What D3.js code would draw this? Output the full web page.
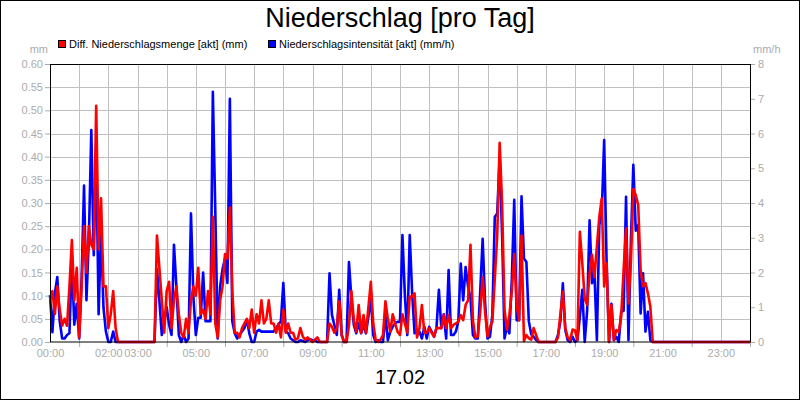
<!DOCTYPE html>
<html>
<head>
<meta charset="utf-8">
<script src="https://cdn.jsdelivr.net/npm/d3@7"></script>
<style>
  body { margin: 0; background: #fff; }
  svg { display: block; font-family: "Liberation Sans", Arial, sans-serif; }
</style>
</head>
<body>
<svg id="chart"></svg>
<script>
// 5-minute steps from 00:00 to 24:00 (289 values each)
var stepMinutes = 5

// Diff. Niederschlagsmenge [akt] (mm)
var mengeValues = [
  0.09, 0.11, 0.06, 0.12, 0.07, 0.035, 0.05, 0.035, 0.12, 0.22, 0.09, 0.16, 0.01,
  0.12, 0.25, 0.15, 0.25, 0.21, 0.20, 0.51, 0.20, 0.31, 0.12, 0.12, 0.03, 0.06, 0.11, 0.03, 0,
  0, 0, 0, 0, 0, 0, 0, 0, 0, 0, 0, 0, 0, 0, 0,
  0.23, 0.16, 0.09, 0.02, 0.11, 0.13, 0.03, 0.09, 0.12, 0.06, 0.02, 0.01, 0.05, 0.02, 0.09, 0.12,
  0.10, 0.16, 0.06, 0.07, 0.05, 0.11, 0.06, 0.27, 0.04, 0.01, 0.09, 0.12, 0.19, 0.18, 0.29, 0.11,
  0.02, 0.02, 0.01, 0.03, 0.04, 0.05, 0.03, 0.07, 0.02, 0.06, 0.04, 0.09, 0.04, 0.05, 0.09, 0.04,
  0.04, 0.02, 0.04, 0.01, 0.07,
  0.02, 0.04, 0.02, 0.02, 0.005, 0.008, 0.03, 0.012, 0.005, 0.01, 0.005, 0, 0.005, 0.01, 0, 0,
  0, 0, 0.04, 0.033, 0.02, 0.03, 0.088, 0.015, 0, 0, 0.035, 0.11, 0.047, 0.022, 0.08, 0.02,
  0.058, 0.02, 0.075, 0.13, 0.04, 0.004, 0, 0.005, 0.015, 0.088, 0.05, 0.022, 0.06, 0.04, 0.022, 0.015,
  0.06, 0.04, 0.02, 0.098, 0.098, 0.105, 0.01, 0.03,
  0.08, 0.02, 0.02, 0.03, 0.02, 0.012, 0.03, 0.03, 0.03, 0.058, 0.03, 0.058, 0.03, 0.037, 0.04, 0.044,
  0.058, 0.047, 0.08, 0.09, 0.21, 0.047, 0.01, 0.012, 0.065, 0.14, 0.065, 0.012, 0.033, 0.044, 0.137, 0.23,
  0.43, 0.30, 0.07, 0.026, 0.058, 0.11, 0.19, 0.08, 0.047, 0.23, 0.002, 0.015, 0.008, 0.005, 0.03, 0.015,
  0, 0, 0, 0, 0, 0, 0, 0,
  0.01, 0.06, 0.109, 0.03, 0.01, 0.004, 0.027, 0.025, 0.004, 0.238, 0.17, 0.094, 0.08, 0.148, 0.188, 0.14,
  0.206, 0.27, 0.31, 0.12, 0.17, 0, 0.08, 0.005, 0.026, 0.022, 0.055, 0.155, 0.245, 0.083, 0.173, 0.33,
  0.317, 0.296, 0.155, 0.12, 0.127, 0.105, 0.076, 0,
  0, 0, 0, 0, 0, 0, 0, 0, 0, 0, 0, 0, 0, 0, 0, 0, 0, 0, 0, 0,
  0, 0, 0, 0, 0, 0, 0, 0, 0, 0, 0, 0, 0, 0, 0, 0, 0, 0, 0, 0
]

// Niederschlagsintensitaet [akt] (mm/h)
var intensitaetValues = [
  1.35, 0.28, 1.4, 1.87, 0.6, 0.1, 0.1, 0.2, 0.25, 2.4, 0.5, 1.1, 0.1,
  1.8, 4.5, 1.2, 3.0, 6.1, 2.5, 5.6, 0.8, 3.2, 1.0, 0.3, 0, 0, 0.3, 0, 0,
  0, 0, 0, 0, 0, 0, 0, 0, 0, 0, 0, 0, 0, 0, 0,
  2.1, 1.2, 0.2, 0.6, 1.0, 0.5, 0.2, 2.8, 1.6, 0.2, 0, 0.2, 0, 0.1, 3.7, 1.3,
  0.2, 0.7, 0.7, 2.0, 0.6, 0.6, 0.6, 7.2, 3.8, 0.1, 1.6, 2.1, 2.4, 1.7, 7.0, 0.6,
  0.25, 0.1, 0.2, 0.3, 0.4, 0.65, 0.25, 0, 0, 0.3, 0.35, 0.3, 0.3, 0.3, 0.3, 0.3,
  0.3, 0.4, 0.5, 0.6, 1.7,
  0.3, 0.25, 0.1, 0.05, 0, 0, 0.05, 0.03, 0, 0.05, 0.08, 0.05, 0.05, 0, 0, 0,
  0, 0, 1.98, 0.78, 0.49, 0.2, 1.5, 0.2, 0, 0, 2.3, 1.26, 0.49, 0.25, 0.54, 0.25,
  0.49, 0.25, 0.73, 1.26, 0.2, 0, 0.05, 0, 0, 0.78, 0.05, 0.3, 0.44, 0.54, 0.58, 0.58,
  3.08, 1.35, 0.2, 3.08, 1.4, 0.25, 0.35, 0.3,
  0.1, 0.44, 0.1, 0.44, 0.3, 0.15, 0.4, 1.5, 0.4, 0.8, 0.1, 2.07, 0.2, 0.2, 0.3, 0.6,
  2.26, 1.2, 2.16, 1.6, 1.26, 0.2, 0.1, 0.1, 1.45, 2.97, 1.15, 0.1, 0.15, 0.78, 3.6, 3.7,
  5.33, 3.1, 0.1, 0.44, 0.25, 1.8, 4.09, 0.63, 0.63, 4.19, 2.4, 2.3, 0.6, 0.22, 0.15, 0.06,
  0, 0, 0, 0, 0, 0, 0, 0,
  0.2, 0.6, 1.69, 0.35, 0.05, 0, 0.15, 0, 0.05, 0.73, 1.5, 0, 0.9, 3.5, 1.69, 1.98,
  0.05, 3.37, 3.7, 5.81, 2.3, 0, 1.1, 0.05, 0.15, 0, 0.87, 0.9, 4.18, 0.05, 2.9, 5.1,
  3.2, 3.37, 0.82, 1.98, 0.3, 0.87, 0.05, 0,
  0, 0, 0, 0, 0, 0, 0, 0, 0, 0, 0, 0, 0, 0, 0, 0, 0, 0, 0, 0,
  0, 0, 0, 0, 0, 0, 0, 0, 0, 0, 0, 0, 0, 0, 0, 0, 0, 0, 0, 0
]

// tick labels / positions
var leftTicks = [0, 0.05, 0.10, 0.15, 0.20, 0.25, 0.30, 0.35, 0.40, 0.45, 0.50, 0.55, 0.60]
var rightTicks = [0, 1, 2, 3, 4, 5, 6, 7, 8]
var hourLabels = [0, 2, 3, 5, 7, 9, 11, 13, 15, 17, 19, 21, 23]
var hourTicks = [1, 4, 6, 8, 10, 12, 14, 16, 18, 20, 22, 24]
var hourGrid = [1, 2, 3, 4, 5, 6, 7, 8, 9, 10, 11, 12, 13, 14, 15, 16, 17, 18, 19, 20, 21, 22, 23]

var title = "Niederschlag [pro Tag]"
var dayLabel = "17.02"
var seriesNames = ["Diff. Niederschlagsmenge [akt] (mm)", "Niederschlagsintensität [akt] (mm/h)"]
var seriesColors = ["#ff0000", "#0000ff"]

//----------setup-----------
var screen = {width: 800, height: 400}
var plot = {left: 50, right: 750, top: 64, bottom: 342}
var gray = "#ababab"

var svg = d3.select("#chart")
  .attr("width", screen.width)
  .attr("height", screen.height)

svg.append("rect")
  .attr("x", 0.5).attr("y", 0.5)
  .attr("width", screen.width - 1).attr("height", screen.height - 1)
  .attr("fill", "#fff").attr("stroke", "#000")

var xScale = d3.scaleLinear().domain([0, 24]).range([plot.left, plot.right])
var yLeft = d3.scaleLinear().domain([0, 0.6]).range([plot.bottom, plot.top])
var yRight = d3.scaleLinear().domain([0, 8]).range([plot.bottom, plot.top])

//----------grid-----------
var grid = svg.append("g").attr("stroke", "#c0c0c0").attr("stroke-width", 1)
grid.selectAll("line.v")
  .data(hourGrid)
  .enter()
  .append("line")
  .attr("x1", function(h) { return Math.round(xScale(h)) + 0.5 })
  .attr("x2", function(h) { return Math.round(xScale(h)) + 0.5 })
  .attr("y1", plot.top).attr("y2", plot.bottom)
grid.selectAll("line.h")
  .data(leftTicks.slice(1, -1))
  .enter()
  .append("line")
  .attr("y1", function(v) { return Math.round(yLeft(v)) + 0.5 })
  .attr("y2", function(v) { return Math.round(yLeft(v)) + 0.5 })
  .attr("x1", plot.left).attr("x2", plot.right)

//----------axes-----------
var styleAxis = function(g) {
  g.select(".domain").remove()
  g.selectAll(".tick line").attr("stroke", gray)
  g.selectAll(".tick text")
    .attr("fill", gray)
    .style("font-size", "11px")
    .style("font-family", "\"Liberation Sans\", Arial, sans-serif")
}

svg.append("g")
  .attr("transform", "translate(" + plot.left + ",0)")
  .call(d3.axisLeft(yLeft).tickValues(leftTicks).tickSize(5).tickPadding(2).tickFormat(d3.format(".2f")))
  .call(styleAxis)

svg.append("g")
  .attr("transform", "translate(" + plot.right + ",0)")
  .call(d3.axisRight(yRight).tickValues(rightTicks).tickSize(5).tickPadding(3).tickFormat(d3.format("d")))
  .call(styleAxis)

svg.append("g")
  .attr("transform", "translate(0," + plot.bottom + ")")
  .call(d3.axisBottom(xScale).tickValues(hourTicks).tickSize(5).tickFormat(""))
  .call(styleAxis)

svg.append("g")
  .attr("transform", "translate(0," + plot.bottom + ")")
  .call(d3.axisBottom(xScale).tickValues(hourLabels).tickSize(0).tickPadding(7)
    .tickFormat(function(h) { return d3.format("02d")(h) + ":00" }))
  .call(styleAxis)

// units
svg.append("text").attr("x", 48).attr("y", 53).attr("text-anchor", "end")
  .attr("fill", gray).style("font-size", "11px").text("mm")
svg.append("text").attr("x", 753).attr("y", 53)
  .attr("fill", gray).style("font-size", "11px").text("mm/h")

//----------lines-----------
var hourOf = function(i) { return i * stepMinutes / 60 }

var lineBlue = d3.line()
  .x(function(v, i) { return xScale(hourOf(i)) })
  .y(function(v) { return yRight(v) })
var lineRed = d3.line()
  .x(function(v, i) { return xScale(hourOf(i)) })
  .y(function(v) { return yLeft(v) })

svg.append("path")
  .datum(intensitaetValues)
  .attr("d", lineBlue)
  .attr("fill", "none")
  .attr("stroke", seriesColors[1])
  .attr("stroke-width", 2.6)
  .attr("stroke-linejoin", "round")

svg.append("path")
  .datum(mengeValues)
  .attr("d", lineRed)
  .attr("fill", "none")
  .attr("stroke", seriesColors[0])
  .attr("stroke-width", 2.6)
  .attr("stroke-linejoin", "round")

//----------frame-----------
svg.append("rect")
  .attr("x", plot.left + 0.5).attr("y", plot.top + 0.5)
  .attr("width", plot.right - plot.left).attr("height", plot.bottom - plot.top - 0.5)
  .attr("fill", "none").attr("stroke", "#000")

//----------legend-----------
var legendX = [58, 268]
var legend = svg.selectAll("g.legend")
  .data(seriesNames)
  .enter()
  .append("g")
  .attr("transform", function(d, i) { return "translate(" + legendX[i] + ",40)" })
legend.append("rect")
  .attr("x", 0.5).attr("y", 0.5).attr("width", 7).attr("height", 7)
  .attr("fill", function(d, i) { return seriesColors[i] })
  .attr("stroke", "#000")
legend.append("text")
  .attr("x", 11).attr("y", 8)
  .style("font-size", "11px")
  .attr("fill", "#000")
  .text(function(d) { return d })

//----------labels-----------
svg.append("text")
  .attr("x", 400).attr("y", 27)
  .attr("text-anchor", "middle")
  .style("font-size", "27px")
  .text(title)

svg.append("text")
  .attr("x", 400).attr("y", 384)
  .attr("text-anchor", "middle")
  .style("font-size", "20px")
  .text(dayLabel)
</script>
</body>
</html>
